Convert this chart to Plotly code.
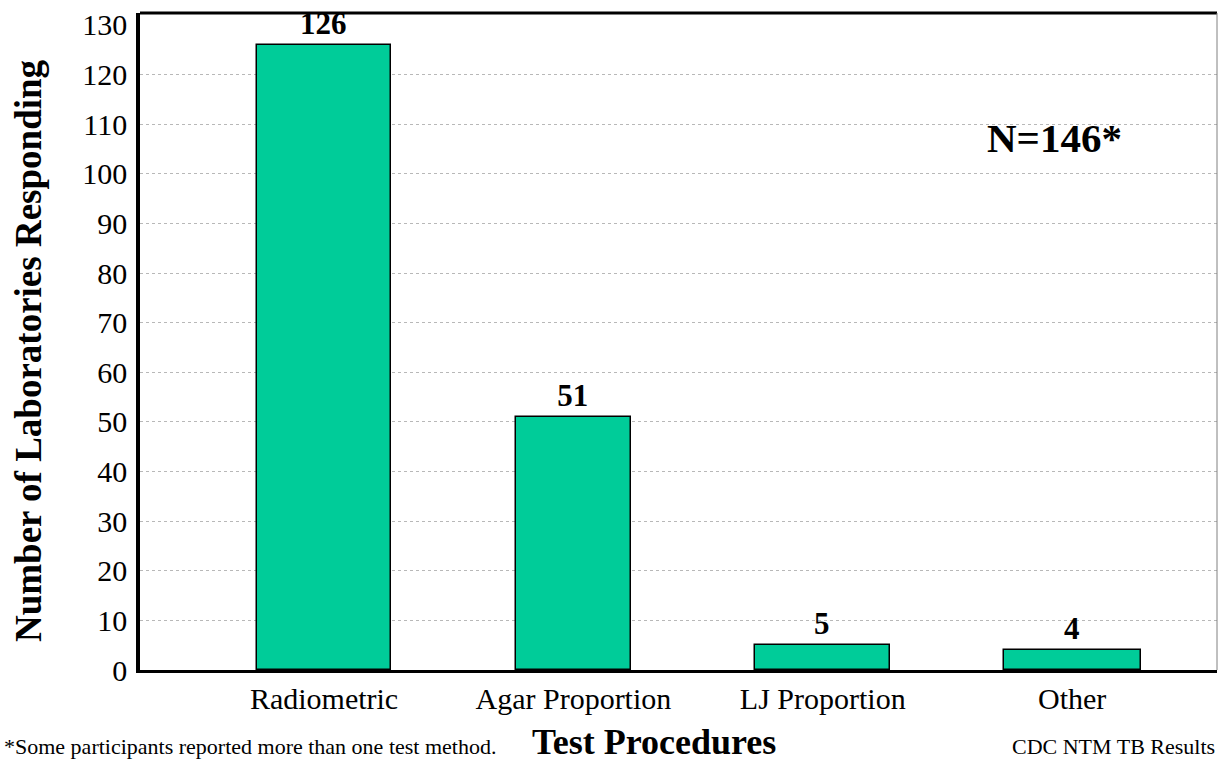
import plotly.graph_objects as go

categories = ["Radiometric", "Agar Proportion", "LJ Proportion", "Other"]
counts = [126, 51, 5, 4]
y_ticks = list(range(0, 131, 10))
grid_ticks = list(range(10, 121, 10))

bar_widths = [0.54, 0.46, 0.54, 0.55]
BAR_COLOR = "#00CC99"
FONT = "Liberation Serif"

fig = go.Figure()
fig.add_trace(go.Bar(
    x=categories, y=counts, width=bar_widths,
    marker=dict(color=BAR_COLOR, line=dict(color="black", width=1.5)),
    texttemplate="<b>%{y}</b>", textposition="outside",
    textfont=dict(family=FONT, size=31, color="black"),
    cliponaxis=False, showlegend=False,
))
# invisible trace carrying the grid-only axis
fig.add_trace(go.Scatter(x=categories, y=counts, yaxis="y2", mode="none",
                         showlegend=False, hoverinfo="skip"))

fig.update_layout(
    width=1219, height=762,
    margin=dict(l=140, r=2, t=13, b=92),
    paper_bgcolor="white", plot_bgcolor="white",
    font=dict(family=FONT, color="black"),
    bargap=0,
    xaxis=dict(
        type="category", range=[-0.738, 3.581],
        showline=True, linecolor="black", linewidth=3,
        ticks="", tickfont=dict(family=FONT, size=30, color="black"),
        showgrid=False, zeroline=False,
    ),
    yaxis=dict(
        range=[0, 132.4], tickvals=y_ticks,
        showline=True, linecolor="black", linewidth=3.5,
        ticks="", ticklabelstandoff=3,
        tickfont=dict(family=FONT, size=30, color="black"),
        showgrid=False, zeroline=False,
    ),
    yaxis2=dict(
        range=[0, 132.4], overlaying="y", tickvals=grid_ticks,
        showticklabels=False, showgrid=True, gridcolor="#b8b8b8",
        griddash="dot", gridwidth=1, zeroline=False, showline=False,
        layer="below traces",
    ),
    shapes=[
        dict(type="line", xref="paper", yref="paper", x0=0, x1=1, y0=1, y1=1,
             line=dict(color="black", width=3)),
        dict(type="line", xref="paper", yref="paper", x0=1, x1=1, y0=0, y1=1,
             line=dict(color="#808080", width=1)),
    ],
    annotations=[
        dict(text="<b>Number of Laboratories Responding</b>", textangle=-90,
             xref="paper", yref="paper", x=-0.104, y=0.487,
             xanchor="center", yanchor="middle", showarrow=False,
             font=dict(family=FONT, size=37, color="black")),
        dict(text="<b>Test Procedures</b>",
             xref="paper", yref="paper", x=(654 - 140) / 1077, y=(670 - 742) / 657,
             xanchor="center", yanchor="middle", showarrow=False,
             font=dict(family=FONT, size=36, color="black")),
        dict(text="<b>N=146*</b>",
             xref="paper", yref="paper", x=0.849, y=0.81,
             xanchor="center", yanchor="middle", showarrow=False,
             font=dict(family=FONT, size=41, color="black")),
        dict(text="*Some participants reported more than one test method.",
             xref="paper", yref="paper", x=(2 - 140) / 1077, y=(670 - 761) / 657,
             xanchor="left", yanchor="bottom", showarrow=False,
             font=dict(family=FONT, size=22, color="black")),
        dict(text="CDC NTM TB Results",
             xref="paper", yref="paper", x=1.0, y=(670 - 761) / 657,
             xanchor="right", yanchor="bottom", showarrow=False,
             font=dict(family=FONT, size=22, color="black")),
    ],
)

fig.write_html(
    "out.html",
    config={"displayModeBar": False},
    post_script="document.body.style.margin='0';document.body.style.overflow='hidden';",
)
